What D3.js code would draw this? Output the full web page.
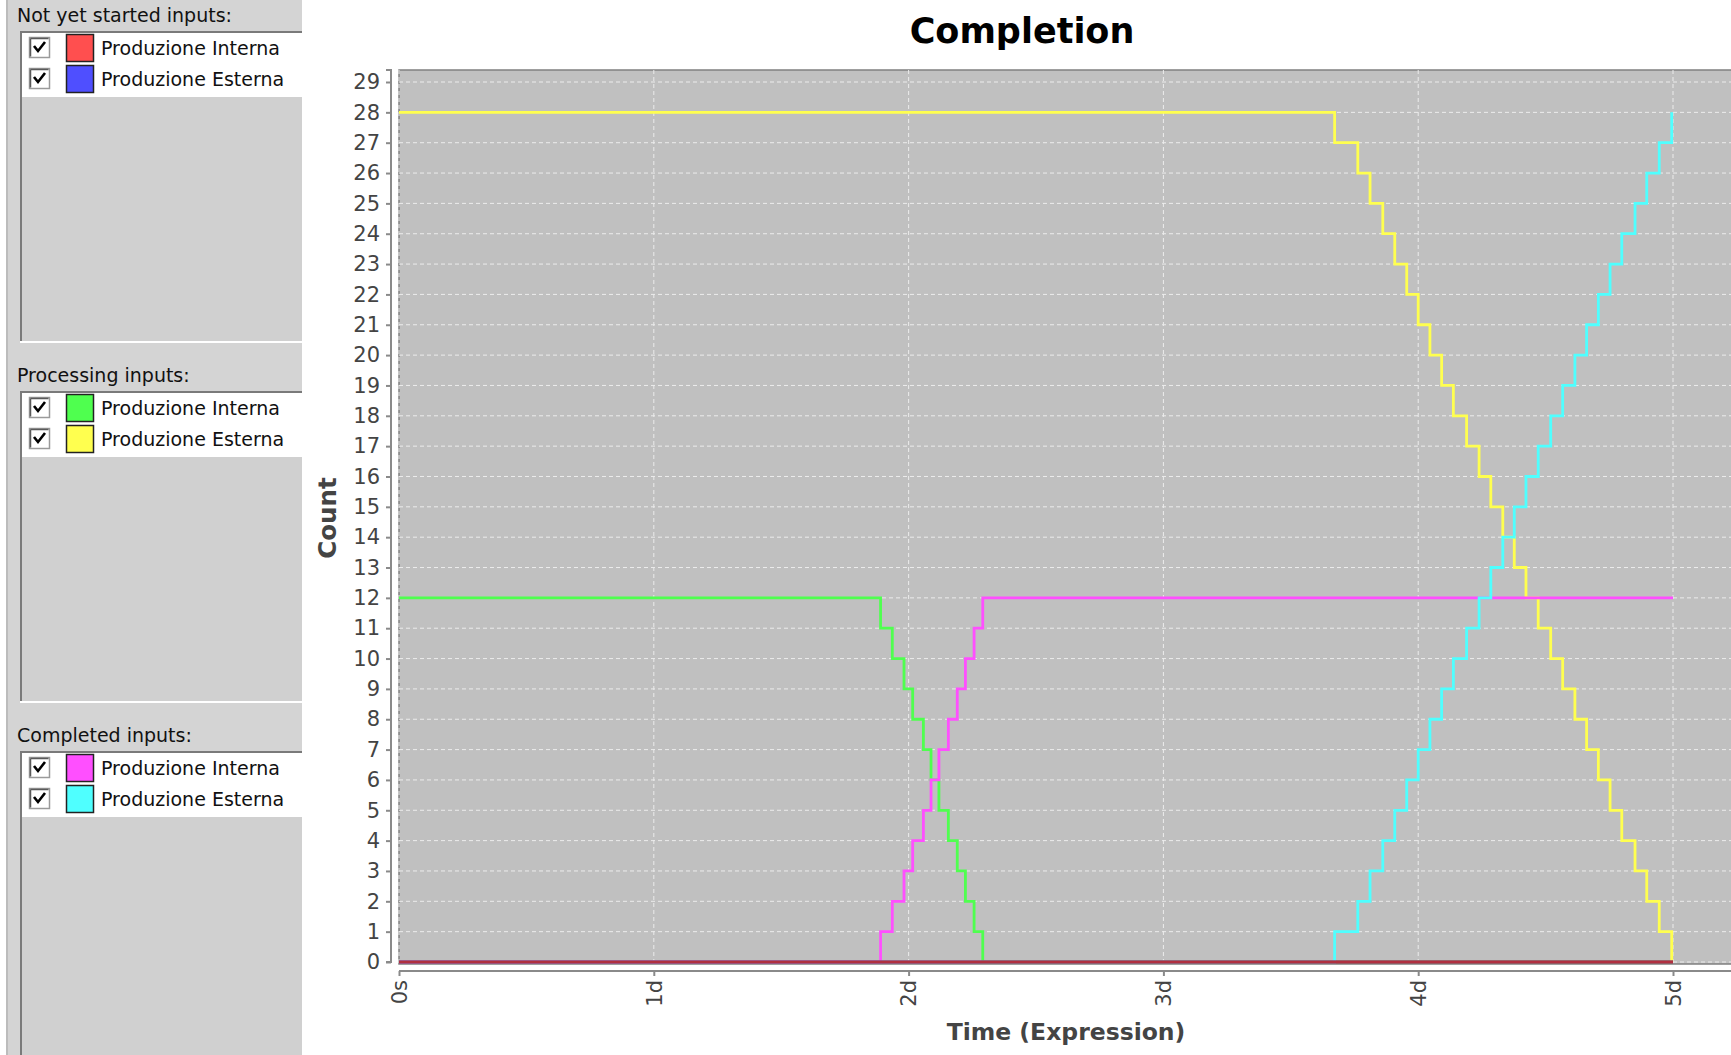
<!DOCTYPE html>
<html>
<head>
<meta charset="utf-8">
<script src="https://cdn.jsdelivr.net/npm/d3@7"></script>
<style>
  body { margin: 0; background: #fff; }
  svg { display: block; font-family: "DejaVu Sans", sans-serif; }
</style>
</head>
<body>
<div id="chart"></div>
<script>
// legend groups and series
const groupTitles = ["Not yet started inputs:", "Processing inputs:", "Completed inputs:"];
const seriesNames = ["Produzione Interna", "Produzione Esterna"];
const groupColors = [["#ff4f4f", "#4f4fff"], ["#4fff4f", "#ffff4f"], ["#ff4fff", "#4fffff"]];

// x ticks (days)
const dayTicks = [0, 1, 2, 3, 4, 5];
const dayLabels = ["0s", "1d", "2d", "3d", "4d", "5d"];
const countTicks = d3.range(0, 30);

// step series, times in days
const internaTimes = [0, 1.890, 1.936, 1.982, 2.016, 2.058, 2.088, 2.119, 2.156, 2.191, 2.223, 2.257, 2.291, 5.0];
const processingInterna = [12, 11, 10, 9, 8, 7, 6, 5, 4, 3, 2, 1, 0, 0];
const completedInterna = [0, 1, 2, 3, 4, 5, 6, 7, 8, 9, 10, 11, 12, 12];

const esternaTimes = [0, 3.672, 3.763, 3.811, 3.861, 3.908, 3.955, 4.000, 4.046, 4.092, 4.138,
    4.190, 4.239, 4.285, 4.332, 4.377, 4.423, 4.471, 4.520, 4.567, 4.615, 4.661, 4.707,
    4.753, 4.799, 4.851, 4.897, 4.946, 4.995];
const processingEsterna = [28, 27, 26, 25, 24, 23, 22, 21, 20, 19, 18, 17, 16, 15, 14,
    13, 12, 11, 10, 9, 8, 7, 6, 5, 4, 3, 2, 1, 0];
const completedEsterna = [0, 1, 2, 3, 4, 5, 6, 7, 8, 9, 10, 11, 12, 13, 14,
    15, 16, 17, 18, 19, 20, 21, 22, 23, 24, 25, 26, 27, 28];

const notStartedTimes = [0, 5.0];
const notStartedInterna = [0, 0];
const notStartedEsterna = [0, 0];

const W = 1731, H = 1055;
const svg = d3.select("#chart").append("svg")
    .attr("width", W).attr("height", H);

// ---------- left legend panels ----------
const panel = svg.append("g");
panel.append("rect").attr("x", 6).attr("y", 0).attr("width", 296).attr("height", H)
    .attr("fill", "#d4d4d4");
panel.append("line").attr("x1", 7).attr("x2", 7).attr("y1", 0).attr("y2", H)
    .attr("stroke", "#bcbcbc").attr("stroke-width", 2);

groupTitles.forEach(function(title, gi) {
    const top = 31 + gi * 360;
    const g = panel.append("g").attr("transform", `translate(0, ${top})`);
    g.append("text").attr("x", 17).attr("y", -9)
        .attr("font-size", 19).attr("fill", "#111").text(title);
    // list box
    g.append("rect").attr("x", 20).attr("y", 0).attr("width", 282).attr("height", 310)
        .attr("fill", "#d0d0d0");
    g.append("rect").attr("x", 22).attr("y", 2).attr("width", 280).attr("height", 64)
        .attr("fill", "#ffffff");
    g.append("path").attr("d", "M21,310 V1 H302")
        .attr("fill", "none").attr("stroke", "#7a7a7a").attr("stroke-width", 2);
    g.append("line").attr("x1", 20).attr("x2", 302).attr("y1", 311).attr("y2", 311)
        .attr("stroke", "#ffffff").attr("stroke-width", 2);

    seriesNames.forEach(function(name, si) {
        const y0 = 4 + si * 31;
        // checkbox
        g.append("rect").attr("x", 29.5).attr("y", y0 + 2.5).attr("width", 20).attr("height", 20)
            .attr("fill", "#fff").attr("stroke", "#9a9a9a").attr("stroke-width", 1.5);
        g.append("path").attr("d", "M30.5," + (y0 + 3.5) + " h18 M30.5," + (y0 + 3.5) + " v18")
            .attr("stroke", "#5a5a5a").attr("stroke-width", 1.5);
        g.append("path")
            .attr("d", `M34,${y0 + 11} L38,${y0 + 16} L45,${y0 + 7}`)
            .attr("fill", "none").attr("stroke", "#000").attr("stroke-width", 2.6);
        // swatch
        g.append("rect").attr("x", 66.5).attr("y", y0 - 0.5).attr("width", 27).attr("height", 27)
            .attr("fill", groupColors[gi][si]).attr("stroke", "#222").attr("stroke-width", 1.5);
        g.append("text").attr("x", 101).attr("y", y0 + 20)
            .attr("font-size", 19).attr("fill", "#111").text(name);
    });
});

// ---------- chart ----------
const plotLeft = 399, plotTop = 70, plotBottom = 964, plotRight = W + 10;

const x = d3.scaleLinear().domain([0, 5]).range([399, 1673]);
const y = d3.scaleLinear().domain([0, 29]).range([962, 82]);

svg.append("text").attr("x", 1022).attr("y", 43)
    .attr("text-anchor", "middle").attr("font-size", 35).attr("font-weight", "bold")
    .attr("fill", "#000").text("Completion");

svg.append("rect").attr("x", plotLeft).attr("y", plotTop)
    .attr("width", plotRight - plotLeft).attr("height", plotBottom - plotTop)
    .attr("fill", "#c0c0c0").attr("stroke", "#808080").attr("stroke-width", 1.5);

// grid
svg.append("g").selectAll("line").data(countTicks).join("line")
    .attr("x1", plotLeft).attr("x2", plotRight)
    .attr("y1", d => y(d)).attr("y2", d => y(d))
    .attr("stroke", "#ececec").attr("stroke-width", 1).attr("stroke-dasharray", "4,3");
svg.append("g").selectAll("line").data(dayTicks).join("line")
    .attr("x1", d => x(d)).attr("x2", d => x(d))
    .attr("y1", plotTop).attr("y2", plotBottom)
    .attr("stroke", "#ececec").attr("stroke-width", 1).attr("stroke-dasharray", "4,3");

// axes
const yAxis = d3.axisLeft(y).tickValues(countTicks).tickSize(5).tickPadding(6);
const gy = svg.append("g").attr("transform", "translate(391, 0)").call(yAxis);
gy.select(".domain").attr("d", `M-5,${plotTop}H0V${y(0)}H-5`);
gy.selectAll("text").attr("font-size", 21).attr("fill", "#444")
    .attr("font-family", "DejaVu Sans, sans-serif");

const xAxis = d3.axisBottom(x).tickValues(dayTicks)
    .tickFormat((d, i) => dayLabels[i]).tickSize(5).tickPadding(5);
const gx = svg.append("g").attr("transform", "translate(0, 971)").call(xAxis);
gx.select(".domain").attr("d", `M${plotLeft},0H${plotRight}`);
gx.selectAll("text").attr("font-size", 21).attr("fill", "#444")
    .attr("font-family", "DejaVu Sans, sans-serif")
    .attr("transform", "rotate(-90)")
    .attr("text-anchor", "end").attr("dy", "0.35em").attr("x", -9).attr("y", 0);
svg.selectAll(".domain, .tick line").attr("stroke", "#8a8a8a").attr("stroke-width", 2);

svg.append("text")
    .attr("transform", "translate(336, 518) rotate(-90)")
    .attr("text-anchor", "middle").attr("font-size", 24.5).attr("font-weight", "bold")
    .attr("fill", "#444").text("Count");
svg.append("text").attr("x", 1066).attr("y", 1040)
    .attr("text-anchor", "middle").attr("font-size", 23.5).attr("font-weight", "bold")
    .attr("fill", "#444").text("Time (Expression)");

// series
const line = d3.line()
    .x(d => x(d[0])).y(d => y(d[1]))
    .curve(d3.curveStepAfter);

const series = [
    {times: internaTimes, values: processingInterna, color: groupColors[1][0]},
    {times: esternaTimes, values: processingEsterna, color: groupColors[1][1]},
    {times: internaTimes, values: completedInterna, color: groupColors[2][0]},
    {times: esternaTimes, values: completedEsterna, color: groupColors[2][1]},
    {times: notStartedTimes, values: notStartedEsterna, color: "#8040a0"},
    {times: notStartedTimes, values: notStartedInterna, color: "#b03040"}
];

svg.append("g").selectAll("path").data(series).join("path")
    .attr("d", s => line(s.times.map((t, i) => [t, s.values[i]])))
    .attr("fill", "none")
    .attr("stroke", s => s.color)
    .attr("stroke-width", 2.8);
</script>
</body>
</html>
